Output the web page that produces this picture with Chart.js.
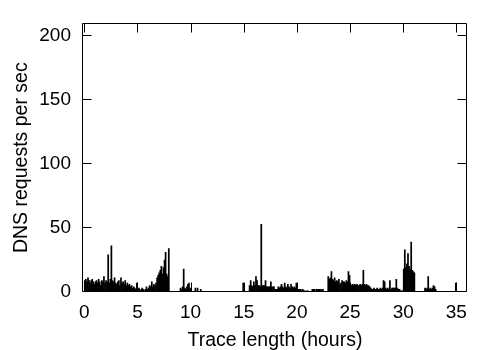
<!DOCTYPE html>
<html><head><meta charset="utf-8">
<script src="https://cdn.jsdelivr.net/npm/chart.js@4"></script>
<style>html,body{margin:0;padding:0;background:#fff;} canvas{display:block;}</style>
</head><body>
<canvas id="c" width="500" height="350"></canvas>
<script>
// width of one time bin, in hours
const binWidthHours = 0.1;

// DNS requests per second, one value per 0.1-hour bin, starting at hour 0
const requestsPerSec = [
  9,10,8,11,9,7,9,10,8,6,        // 0
  8,9,7,10,8,5,9,8,12,7,         // 1
  9,8,29,7,10,36,9,8,11,7,       // 2
  6,8,9,5,11,7,8,6,9,5,          // 3
  7,5,6,4,5,3,4,3,2,7,           // 4
  2,3,1,2,3,2,1,2,4,2,           // 5
  3,5,4,8,4,6,5,7,11,13,         // 6
  15,17,20,14,19,25,31,14,12,34, // 7
  0,0,0,0,0,0,0,0,0,0,           // 8
  3,2,4,18,3,2,4,6,7,3,          // 9
  2,0,0,0,3,0,3,0,0,2,           // 10
  0,0,0,0,0,0,0,0,0,0,           // 11
  0,0,0,0,0,0,0,0,0,0,           // 12
  0,0,0,0,0,0,0,0,0,0,           // 13
  0,0,0,0,0,0,0,0,0,7,           // 14
  0,0,0,0,0,5,9,5,4,8,           // 15
  5,12,9,5,5,4,53,5,5,5,         // 16
  9,4,4,4,4,8,4,4,4,2,           // 17
  2,2,4,3,4,6,4,3,7,4,           // 18
  3,6,4,3,6,4,3,4,3,7,           // 19
  2,2,2,2,1,2,1,1,0,1,           // 20
  1,0,0,0,2,2,2,1,2,2,           // 21
  2,2,2,1,2,0,0,0,0,12,          // 22
  10,11,16,10,9,11,8,9,8,10,     // 23
  6,7,9,8,8,7,9,8,16,13,         // 24
  6,5,6,5,6,5,6,5,5,6,           // 25
  5,6,17,6,5,6,5,5,4,3,          // 26
  2,2,3,2,2,3,2,2,3,2,           // 27
  3,9,8,3,2,3,2,9,2,3,           // 28
  3,3,3,10,3,2,2,1,1,1,          // 29
  18,33,19,22,30,20,18,39,17,16, // 30
  15,0,0,0,0,0,0,0,0,0,          // 31
  3,2,3,12,2,3,2,3,5,4,          // 32
  2,0,0,0,0,0,0,0,0,0,           // 33
  0,0,0,0,0,0,0,0,0,7            // 34
];

const xTickValues = [0, 5, 10, 15, 20, 25, 30, 35];
const yTickValues = [0, 50, 100, 150, 200];
const xTitle = 'Trace length (hours)';
const yTitle = 'DNS requests per sec';

const points = requestsPerSec.map((v, i) => ({ x: (i + 0.5) * binWidthHours, y: v }));

const FAMILY = "'Liberation Sans', Arial, Helvetica, sans-serif";
const TICK_FONT = { family: FAMILY, size: 19 };
const TITLE_FONT = { family: FAMILY, size: 19.5, lineHeight: 1 };
const TICK_LEN = 9;

const framePlugin = {
  id: 'frame',
  afterDatasetsDraw(chart) {
    const { ctx, chartArea, scales } = chart;
    const l = Math.round(chartArea.left) - 0.5, r = Math.round(chartArea.right) - 0.5;
    const t = Math.round(chartArea.top) + 0.5, b = Math.round(chartArea.bottom) - 0.5;
    ctx.save();
    ctx.strokeStyle = '#000';
    ctx.lineWidth = 1;
    ctx.beginPath();
    xTickValues.forEach(v => {
      const px = Math.round(scales.x.getPixelForValue(v)) + 0.5;
      ctx.moveTo(px, b); ctx.lineTo(px, b - TICK_LEN);
      ctx.moveTo(px, t); ctx.lineTo(px, t + TICK_LEN);
    });
    yTickValues.forEach(v => {
      const py = Math.round(scales.y.getPixelForValue(v)) - 0.5;
      ctx.moveTo(l, py); ctx.lineTo(l + TICK_LEN, py);
      ctx.moveTo(r, py); ctx.lineTo(r - TICK_LEN, py);
    });
    ctx.rect(l, t, r - l, b - t);
    ctx.stroke();
    ctx.restore();
  }
};

new Chart(document.getElementById('c'), {
  type: 'bar',
  data: {
    datasets: [{
      data: points,
      backgroundColor: '#000',
      borderWidth: 0,
      barPercentage: 1,
      categoryPercentage: 1
    }]
  },
  options: {
    responsive: false,
    animation: false,
    devicePixelRatio: 1,
    layout: { padding: { left: 0, right: 33, top: 23, bottom: 0 } },
    plugins: { legend: { display: false }, tooltip: { enabled: false } },
    scales: {
      x: {
        type: 'linear',
        offset: false,
        min: -0.12,
        max: 36,
        afterBuildTicks: s => { s.ticks = xTickValues.map(v => ({ value: v })); },
        afterFit: s => { s.height = 58; },
        grid: { display: false, drawTicks: false },
        border: { display: false },
        ticks: { padding: 9, color: '#000', font: TICK_FONT, maxRotation: 0, autoSkip: false },
        title: { display: true, text: xTitle, color: '#000', font: TITLE_FONT, padding: { top: 0, bottom: 0 } }
      },
      y: {
        min: 0,
        max: 210,
        afterBuildTicks: s => { s.ticks = yTickValues.map(v => ({ value: v })); },
        afterFit: s => { s.width = 83; },
        grid: { display: false, drawTicks: false },
        border: { display: false },
        ticks: { padding: 12, color: '#000', font: TICK_FONT, autoSkip: false },
        title: { display: true, text: yTitle, color: '#000', font: TITLE_FONT, padding: { top: 12, bottom: 0 } }
      }
    }
  },
  plugins: [framePlugin]
});
</script>
</body></html>
